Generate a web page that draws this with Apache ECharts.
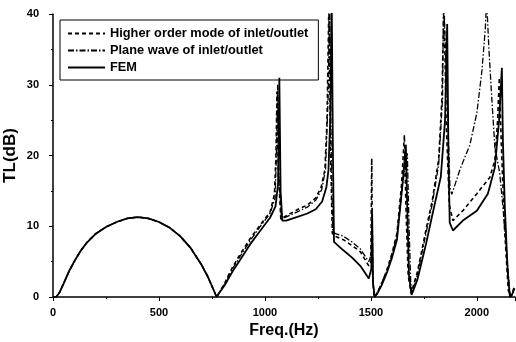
<!DOCTYPE html>
<html>
<head>
<meta charset="utf-8">
<script src="https://cdn.jsdelivr.net/npm/echarts@6/dist/echarts.min.js"></script>
<style>
  html, body { margin: 0; padding: 0; background: #fff; }
  #chart { width: 516px; height: 342px; }
</style>
</head>
<body>
<div id="chart"></div>
<script>
// shared first lobe (all three curves overlap here)
const baseFreq = [0, 15, 30, 50, 75, 100, 130, 160, 200, 250, 300, 350, 400, 450, 500, 550, 600, 650, 700, 730, 755, 772]
const baseTL   = [0, 0, 0.6, 1.9, 3.6, 5.0, 6.5, 7.7, 8.9, 9.9, 10.6, 11.1, 11.3, 11.1, 10.6, 9.8, 8.6, 6.9, 4.6, 2.9, 1.2, 0]

// higher order mode of inlet/outlet (dashed)
const hoFreq = [790, 811, 830, 849, 882, 929, 976, 1024, 1045, 1052, 1057, 1063, 1075, 1085, 1150, 1200, 1240, 1265, 1283, 1293, 1302, 1310, 1318, 1330, 1370, 1410, 1450, 1490, 1500, 1504, 1508, 1515, 1525, 1550, 1575, 1600, 1623, 1645, 1658, 1666, 1676, 1690, 1720, 1760, 1790, 1820, 1835, 1845, 1855, 1870, 1887, 1934, 2000, 2061, 2085, 2098, 2106, 2115, 2130, 2148, 2160, 2178]
const hoTL   = [0.9, 2.0, 3.2, 4.3, 6.0, 8.2, 10.1, 12.0, 14.5, 20, 29, 18, 11.0, 11.2, 12.3, 13.0, 14.0, 15.5, 18, 25, 42, 20, 9.0, 8.6, 8.1, 7.3, 6.4, 4.4, 5, 19.6, 3, 0, 0.3, 1.8, 3.8, 6.2, 9.0, 16, 22.9, 12, 3, 0.5, 3.6, 9.5, 13.7, 19.5, 28, 42, 25, 13, 10.8, 12.2, 14.6, 16.9, 19.3, 25, 31, 22, 10, 1, 0, 1.5]

// plane wave of inlet/outlet (dash-dot)
const pwFreq = [790, 811, 830, 849, 882, 929, 976, 1024, 1048, 1056, 1060, 1066, 1078, 1085, 1150, 1200, 1240, 1268, 1286, 1298, 1305, 1313, 1320, 1330, 1370, 1410, 1450, 1490, 1502, 1506, 1510, 1518, 1528, 1550, 1575, 1600, 1623, 1650, 1672, 1680, 1688, 1695, 1720, 1760, 1790, 1820, 1838, 1843, 1858, 1873, 1882, 1920, 1967, 2000, 2024, 2040, 2046, 2057, 2071, 2085, 2108, 2123, 2142, 2156, 2165, 2178]
const pwTL   = [0.9, 1.9, 3.0, 4.1, 5.7, 7.9, 9.9, 11.8, 14, 22, 30, 17, 11.0, 11.0, 12.0, 12.7, 13.7, 15.2, 18, 28, 42, 20, 9.5, 9.0, 8.6, 7.8, 6.8, 5.0, 6, 12.5, 2, 0, 0.4, 2.0, 3.6, 6.0, 8.6, 16, 20.3, 10, 2, 0.5, 3.2, 9.0, 13.2, 18.8, 28, 42, 30, 15.5, 14.5, 18.0, 21.5, 26, 32, 38, 42, 35, 27.8, 21.2, 17.5, 12.7, 5.7, 0.5, 0.2, 1.0]

// FEM (solid)
const femFreq = [790, 811, 830, 849, 882, 929, 976, 1024, 1050, 1062, 1068, 1074, 1082, 1100, 1150, 1200, 1240, 1270, 1290, 1300, 1308, 1315, 1321, 1326, 1340, 1370, 1410, 1450, 1490, 1502, 1506, 1510, 1518, 1530, 1550, 1575, 1600, 1623, 1651, 1665, 1672, 1680, 1692, 1720, 1760, 1790, 1830, 1850, 1860, 1866, 1872, 1887, 1934, 2000, 2052, 2085, 2105, 2118, 2123, 2132, 2146, 2156, 2165, 2178]
const femTL   = [0.8, 1.7, 2.7, 3.7, 5.2, 7.4, 9.3, 11.2, 12.8, 16, 31, 15, 10.8, 10.8, 11.3, 11.8, 12.4, 13.5, 15.5, 18, 25, 42, 20, 7.8, 7.4, 6.6, 5.6, 4.4, 2.6, 4, 11.8, 2, 0, 0.5, 1.6, 3.4, 5.6, 8.1, 16.5, 21.5, 12, 3, 0.3, 2.5, 7.5, 11.6, 17, 25, 38.6, 20, 10.5, 9.4, 10.8, 12.2, 14.6, 18.3, 25, 32.4, 22, 12.7, 3.4, 0, 0.3, 1.2]

const yTicks = [0, 10, 20, 30, 40]
const xTicks = [0, 500, 1000, 1500, 2000]

const pairs = (fs, ts) => baseFreq.map((f, i) => [f, baseTL[i]]).concat(fs.map((f, i) => [f, ts[i]]))

const font = 'Liberation Sans, Arial, sans-serif'

const chart = echarts.init(document.getElementById('chart'), null, { renderer: 'canvas' })
chart.setOption({
  animation: false,
  backgroundColor: '#fff',
  textStyle: { fontFamily: font, color: '#000' },
  grid: { left: 53, right: 1, top: 14, bottom: 45, containLabel: false, outerBoundsMode: 'none' },
  legend: {
    orient: 'vertical',
    left: 60,
    top: 20,
    padding: [7, 10, 6, 7],
    itemGap: 4,
    itemWidth: 37,
    itemHeight: 13,
    borderColor: '#000',
    borderWidth: 1,
    itemStyle: { opacity: 0 },
    textStyle: { fontSize: 12.8, fontWeight: 'bold', color: '#000', fontFamily: font },
    data: ['Higher order mode of inlet/outlet', 'Plane wave of inlet/outlet', 'FEM']
  },
  xAxis: {
    type: 'value',
    min: 0,
    max: 2180,
    interval: 500,
    name: 'Freq.(Hz)',
    nameLocation: 'middle',
    nameGap: 26,
    nameTextStyle: { fontSize: 16, fontWeight: 'bold', color: '#000' },
    axisLine: { lineStyle: { color: '#000', width: 1.5 } },
    axisTick: { length: 4, lineStyle: { color: '#000' } },
    minorTick: { show: true, splitNumber: 2, length: 2, lineStyle: { color: '#000' } },
    splitLine: { show: false },
    axisLabel: {
      fontSize: 11, fontWeight: 'bold', color: '#000', margin: 10, showMaxLabel: false,
      formatter: v => xTicks.includes(v) ? String(v) : ''
    }
  },
  yAxis: {
    type: 'value',
    min: 0,
    max: 40,
    interval: 10,
    name: 'TL(dB)',
    nameLocation: 'middle',
    nameGap: 34,
    nameMoveOverlap: false,
    nameTextStyle: { fontSize: 17, fontWeight: 'bold', color: '#000' },
    axisLine: { show: true, lineStyle: { color: '#000', width: 1.5 } },
    axisTick: { show: true, length: 4, lineStyle: { color: '#000' } },
    minorTick: { show: true, splitNumber: 2, length: 2, lineStyle: { color: '#000' } },
    splitLine: { show: false },
    axisLabel: {
      fontSize: 11, fontWeight: 'bold', color: '#000', margin: 14,
      formatter: v => yTicks.includes(v) ? String(v) : ''
    }
  },
  series: [
    {
      name: 'Higher order mode of inlet/outlet',
      type: 'line',
      symbol: 'none',
      clip: true,
      color: '#000',
      lineStyle: { color: '#000', width: 1.6, type: [4, 3] },
      data: pairs(hoFreq, hoTL)
    },
    {
      name: 'Plane wave of inlet/outlet',
      type: 'line',
      symbol: 'none',
      clip: true,
      color: '#000',
      lineStyle: { color: '#000', width: 1.3, type: [6, 2, 1.5, 2] },
      data: pairs(pwFreq, pwTL)
    },
    {
      name: 'FEM',
      type: 'line',
      symbol: 'none',
      clip: true,
      color: '#000',
      lineStyle: { color: '#000', width: 1.8 },
      data: pairs(femFreq, femTL)
    }
  ]
})
</script>
</body>
</html>
